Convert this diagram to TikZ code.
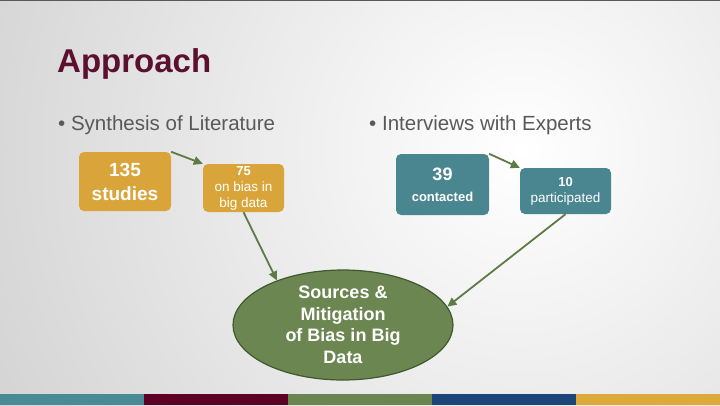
\documentclass[tikz,border=0pt]{standalone}
\usepackage{fontspec}
\setmainfont{Liberation Sans}
\usetikzlibrary{arrows.meta, positioning, shapes.geometric}
\definecolor{apmaroon}{HTML}{5C1030}
\definecolor{apgray}{HTML}{595959}
\definecolor{litgold}{HTML}{D9A53B}
\definecolor{expteal}{HTML}{4A8690}
\definecolor{biasgreen}{HTML}{6B8650}
\definecolor{biasline}{HTML}{3E5A2E}
\definecolor{arrowgreen}{HTML}{5E7A45}
\definecolor{barteal}{HTML}{4A8A94}
\definecolor{barmaroon}{HTML}{5E0026}
\definecolor{bargreen}{HTML}{6A8550}
\definecolor{barblue}{HTML}{1C4579}
\definecolor{bargold}{HTML}{DCA93A}

\begin{document}
\begin{tikzpicture}[
  x=1pt, y=-1pt,
  box/.style    ={rounded corners=5pt, inner sep=0pt, align=center, text=white},
  lit/.style    ={box, fill=litgold},
  exp/.style    ={box, fill=expteal},
  bullet/.style ={anchor=base west, text=apgray, inner sep=0pt,
                  font=\fontsize{20.5}{24}\selectfont},
  flow/.style   ={-{Triangle[length=9pt, width=8.5pt]}, line width=1.8pt, draw=arrowgreen},
]

% slide background
\useasboundingbox (0,0) rectangle (720,405);
\begin{scope}
  \clip (0,0) rectangle (720,405);
  \shade[inner color=white, outer color=black!32] (520,150) circle (1100);
\end{scope}
\draw[black!65, line width=1.5pt] (0,0.5) -- (720,0.5);
\foreach \c [count=\i from 0] in {barteal, barmaroon, bargreen, barblue, bargold}
  \fill[\c] (\i*144,394) rectangle (\i*144+144,405);

\node[anchor=base west, text=apmaroon, inner sep=0pt,
      font=\fontsize{33}{36}\selectfont\bfseries] (title) at (57,72) {Approach};

\node[bullet] (lit)  at (58,130)  {• Synthesis of Literature};
\node[bullet] (intv) at (369,130) {• Interviews with Experts};

\node[lit, minimum width=92pt, minimum height=59pt,
      font=\fontsize{19}{24}\selectfont\bfseries] (b135) at (125,181.5)
  {135\\studies};
\node[lit, minimum width=81pt, minimum height=48pt,
      font=\fontsize{13.5}{16}\selectfont] (b75) at (243.5,188)
  {\fontsize{13}{16}\selectfont\bfseries 75\\on bias in\\big data};

\node[exp, minimum width=93pt, minimum height=61pt,
      font=\fontsize{18}{21}\selectfont\bfseries] (b39) at (442.5,184.5)
  {39\\\fontsize{13}{21}\selectfont contacted};
\node[exp, minimum width=91pt, minimum height=46pt,
      font=\fontsize{13.5}{16}\selectfont] (b10) at (565.5,191)
  {\fontsize{13}{16}\selectfont\bfseries 10\\participated};

\node[ellipse, fill=biasgreen, draw=biasline, line width=1.2pt, text=white,
      minimum width=220pt, minimum height=110pt, inner sep=0pt, align=center,
      font=\fontsize{18}{21.5}\selectfont\bfseries] (bias) at (343,325)
  {Sources \&\\Mitigation\\of Bias in Big\\Data};

\draw[flow] (b135.north east) -- (b75.north west);
\draw[flow] (b75.south)       -- (bias.146);
\draw[flow] (b39.north east)  -- (b10.north west);
\draw[flow] (b10.south)       -- (bias.10);

\end{tikzpicture}
\end{document}
